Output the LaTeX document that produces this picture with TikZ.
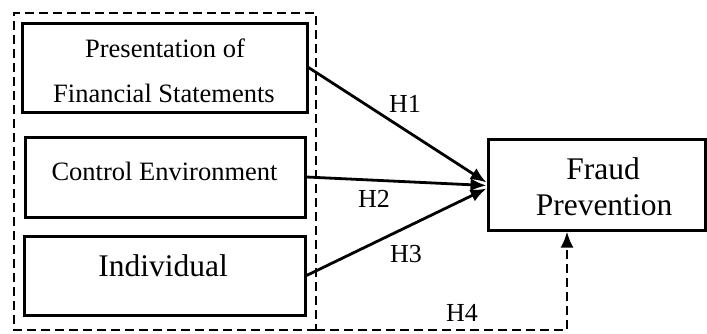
\documentclass[tikz,border=0pt]{standalone}
\usepackage{fontspec}
\setmainfont{Liberation Serif}
\usetikzlibrary{arrows.meta,calc}
\tikzset{
  box/.style={draw,line width=3pt,minimum width=#1,inner sep=0pt},
  txt/.style={anchor=base,inner sep=0pt,font=\fontsize{26.5}{30}\selectfont},
  bigtxt/.style={anchor=base,inner sep=0pt,font=\fontsize{31.5}{36}\selectfont},
  hl/.style={anchor=base,inner sep=0pt,font=\fontsize{26}{30}\selectfont},
  conn/.style={line width=2.8pt,-{Latex[length=16pt,width=13pt]}},
  dashbox/.style={line width=2.8pt,dash pattern=on 9pt off 5pt}
}
\begin{document}
\begin{tikzpicture}[x=1pt,y=-1pt]
\useasboundingbox (0,0) rectangle (707,333);
% outer dashed box
\draw[dashbox] (316,330) -- (14,330) -- (14,13) -- (316,13) -- (316,330);
\coordinate (ob) at (316,330);
\coordinate (h4c) at (567,330);
% boxes
\node[box=285pt,minimum height=89pt] (b1) at (164.5,67.5) {};
\node[box=280pt,minimum height=80pt] (b2) at (165,177) {};
\node[box=281pt,minimum height=79pt] (b3) at (164.5,275.5) {};
\node[box=217pt,minimum height=91pt] (fp) at (596.5,184.5) {};
% texts
\node[txt] (t1a) at (165,57) {Presentation of};
\node[txt] (t1b) at (164,102) {Financial Statements};
\node[txt] (t2) at (164.5,180) {Control Environment};
\node[bigtxt] (t3) at (163,276) {Individual};
\node[bigtxt] (t4a) at (603,179) {Fraud};
\node[bigtxt] (t4b) at (604,215) {Prevention};
% connectors
\draw[conn] (b1.east) -- ($(fp.west)+(0,-2)$);
\draw[conn] (b2.east) -- ($(fp.west)+(0,1)$);
\draw[conn] (b3.east) -- ($(fp.west)+(0,4)$);
\draw[dashbox,-{Latex[length=16pt,width=13pt]}] (ob) -- (h4c) -- (h4c |- fp.south);
% labels
\node[hl] (h1) at (405,112) {H1};
\node[hl] (h2) at (374,207) {H2};
\node[hl] (h3) at (406,262) {H3};
\node[hl] (h4) at (462,321) {H4};
\end{tikzpicture}
\end{document}
